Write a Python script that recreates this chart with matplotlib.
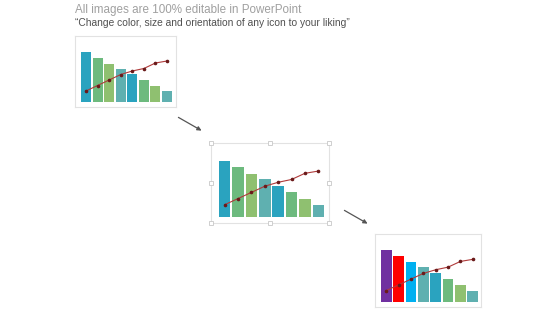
import matplotlib.pyplot as plt
from matplotlib.patches import Rectangle, FancyArrowPatch

plt.rcParams['font.family'] = ['Liberation Sans', 'DejaVu Sans']

# Data
bar_values = [100, 89, 77, 67, 56, 44, 33, 22]
line_values = [22, 33, 44, 55, 62, 67, 78, 82]
colors_a = ["#2aa3bf", "#6dba7e", "#8fc070", "#5fb0b0", "#2aa3bf", "#6dba7e", "#8fc070", "#5fb0b0"]
colors_c = ["#7030a0", "#ff0000", "#00b0f0", "#5fb0b0", "#2aa3bf", "#6dba7e", "#8fc070", "#5fb0b0"]
title = "All images are 100% editable in PowerPoint"
subtitle = "\u201cChange color, size and orientation of any icon to your liking\u201d"

W, H = 560, 315
fig = plt.figure(figsize=(W / 100, H / 100), dpi=100)
fig.patch.set_facecolor("white")


def panel(box, bars_x, bar_bottom, bar_top, colors):
    # box: (x0, y0, x1, y1) in pixels from top-left
    x0, y0, x1, y1 = box
    ax = fig.add_axes([x0 / W, 1 - y1 / H, (x1 - x0) / W, (y1 - y0) / H])
    bw = 0.86
    n = len(bar_values)
    unit = (bars_x[1] - bars_x[0]) / (n - 1 + bw)
    left = -bw / 2 - (bars_x[0] - x0) / unit
    ax.set_xlim(left, left + (x1 - x0) / unit)
    yunit = (bar_bottom - bar_top) / max(bar_values)
    bottom = -(y1 - bar_bottom) / yunit
    ax.set_ylim(bottom, bottom + (y1 - y0) / yunit)
    ax.bar(range(n), bar_values, width=bw, color=colors, linewidth=0)
    ax.plot(range(n), line_values, color="#b03a3a", lw=0.8,
            marker="o", ms=1.6, mfc="#6a1a1a", mec="#6a1a1a")
    ax.set_xticks([])
    ax.set_yticks([])
    for s in ax.spines.values():
        s.set_color("#e2e2e2")
        s.set_linewidth(0.8)
    return ax


panel((75, 36, 176, 107), (81, 172), 102, 52, colors_a)
panel((211, 143, 329, 223), (219, 324), 217, 161, colors_a)
panel((375, 234, 481, 307), (381, 478), 302, 250, colors_c)

# Overlay for text, arrows and handles
ov = fig.add_axes([0, 0, 1, 1])
ov.set_xlim(0, W)
ov.set_ylim(H, 0)
ov.axis("off")
ov.patch.set_alpha(0)

ov.text(75, 10, title, fontsize=8.4, color="#a0a0a0", va="center", ha="left")
ov.text(75, 23, subtitle, fontsize=7.4, color="#505050", va="center", ha="left")

for (xa, ya, xb, yb) in [(176, 116, 204, 132), (342, 209, 370, 225)]:
    ov.add_patch(FancyArrowPatch((xa, ya), (xb, yb), arrowstyle="-|>",
                                 mutation_scale=6, color="#555555", lw=0.9))

# selection handles on middle panel
bx0, by0, bx1, by1 = 211, 143, 329, 223
for hx in (bx0, (bx0 + bx1) / 2, bx1):
    for hy in (by0, (by0 + by1) / 2, by1):
        if hx == (bx0 + bx1) / 2 and hy == (by0 + by1) / 2:
            continue
        ov.add_patch(Rectangle((hx - 2, hy - 2), 4, 4, facecolor="white",
                               edgecolor="#c8c8c8", lw=0.6))

fig.savefig("out.png", dpi=100)
